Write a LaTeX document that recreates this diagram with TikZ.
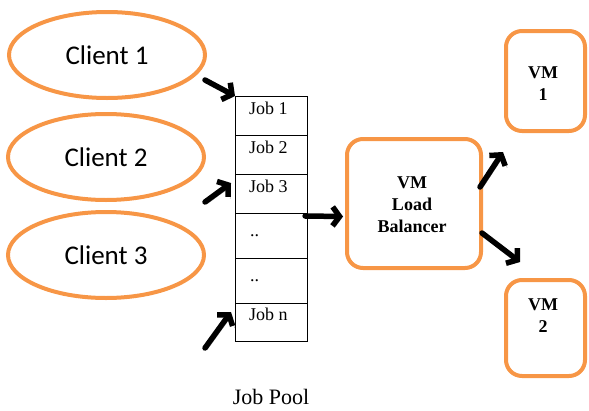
\documentclass[tikz,border=0pt]{standalone}
\usepackage{fontspec}
\setmainfont{Liberation Serif}
\newfontfamily\clientfont{Carlito}
\usetikzlibrary{shapes.geometric,arrows.meta,calc}
\definecolor{accent}{HTML}{F79646}
\tikzset{
  client/.style={ellipse, draw=accent, line width=4pt, minimum width=196pt,
    minimum height=86pt, inner sep=0pt, font=\clientfont\fontsize{27}{32}\selectfont},
  vmbox/.style={rectangle, rounded corners=16pt, draw=accent, line width=4pt, inner sep=0pt},
  cell/.style={rectangle, draw=black, line width=1.1pt, minimum width=72pt,
    anchor=north west, inner sep=0pt},
  celltext/.style={anchor=base west, inner sep=0pt, font=\fontsize{18}{21}\selectfont},
  vmtext/.style={align=center, inner sep=0pt, font=\bfseries\fontsize{18}{22}\selectfont},
  flow/.style={line width=5.5pt, line cap=round, line join=round,
    -{Straight Barb[length=7pt,width=19pt]},
    preaction={draw=black!35, transform canvas={shift={(2pt,-2pt)}}}}
}
\begin{document}
\begin{tikzpicture}[x=1pt,y=-1pt]
\useasboundingbox (0,0) rectangle (589,410);

% clients
\node[client] (c1) at (107,55) {Client 1};
\node[client] (c2) at (106,157) {Client 2};
\node[client] (c3) at (106,255) {Client 3};

% job pool cells
\node[cell, minimum height=39pt] (j1) at (235,96) {};
\node[cell, minimum height=39pt] (j2) at (235,135) {};
\node[cell, minimum height=39pt] (j3) at (235,174) {};
\node[cell, minimum height=45pt] (j4) at (235,213) {};
\node[cell, minimum height=45pt] (j5) at (235,258) {};
\node[cell, minimum height=38pt] (j6) at (235,303) {};
\node[celltext] (t1) at ($(j1.north west)+(14,18)$) {Job 1};
\node[celltext] (t2) at ($(j2.north west)+(14,18)$) {Job 2};
\node[celltext] (t3) at ($(j3.north west)+(14,18)$) {Job 3};
\node[celltext] (t4) at ($(j4.north west)+(15,23)$) {..};
\node[celltext] (t5) at ($(j5.north west)+(15,23)$) {..};
\node[celltext] (t6) at ($(j6.north west)+(14,17)$) {Job n};
\node[anchor=base, inner sep=0pt, font=\fontsize{22}{26}\selectfont] (pool) at (271,404) {Job Pool};

% load balancer and machines
\node[vmbox, minimum width=134pt, minimum height=129pt] (lb) at (414,203.5) {};
\node[vmtext] (lbt) at (412,205) {VM\\Load\\Balancer};
\node[vmbox, minimum width=79pt, minimum height=100pt] (vm1) at (545.5,81) {};
\node[vmtext] (vm1t) at (543,84) {VM\\1};
\node[vmbox, minimum width=79pt, minimum height=96pt] (vm2) at (545.5,328) {};
\node[vmtext] (vm2t) at (543,316) {VM\\2};

% arrow tails and tips
\coordinate (a1) at (205,80);
\coordinate (a2) at (205,202);
\coordinate (a3) at (205,348);
\coordinate (h2) at (231,183);
\coordinate (h3) at (231,312);
\coordinate (p1) at ($(j4.north east)+(-3,3)$);
\coordinate (lbin) at ($(lb.west)+(-2,13)$);
\coordinate (b1) at (480,187);
\coordinate (b2) at (482,233);
\coordinate (v1) at (503,152);
\coordinate (v2) at (520,262);

\draw[flow] (a1) -- (j1.north west);
\draw[flow] (a2) -- (h2);
\draw[flow] (a3) -- (h3);
\draw[flow] (p1) -- (lbin);
\draw[flow] (b1) -- (v1);
\draw[flow] (b2) -- (v2);
\end{tikzpicture}
\end{document}
